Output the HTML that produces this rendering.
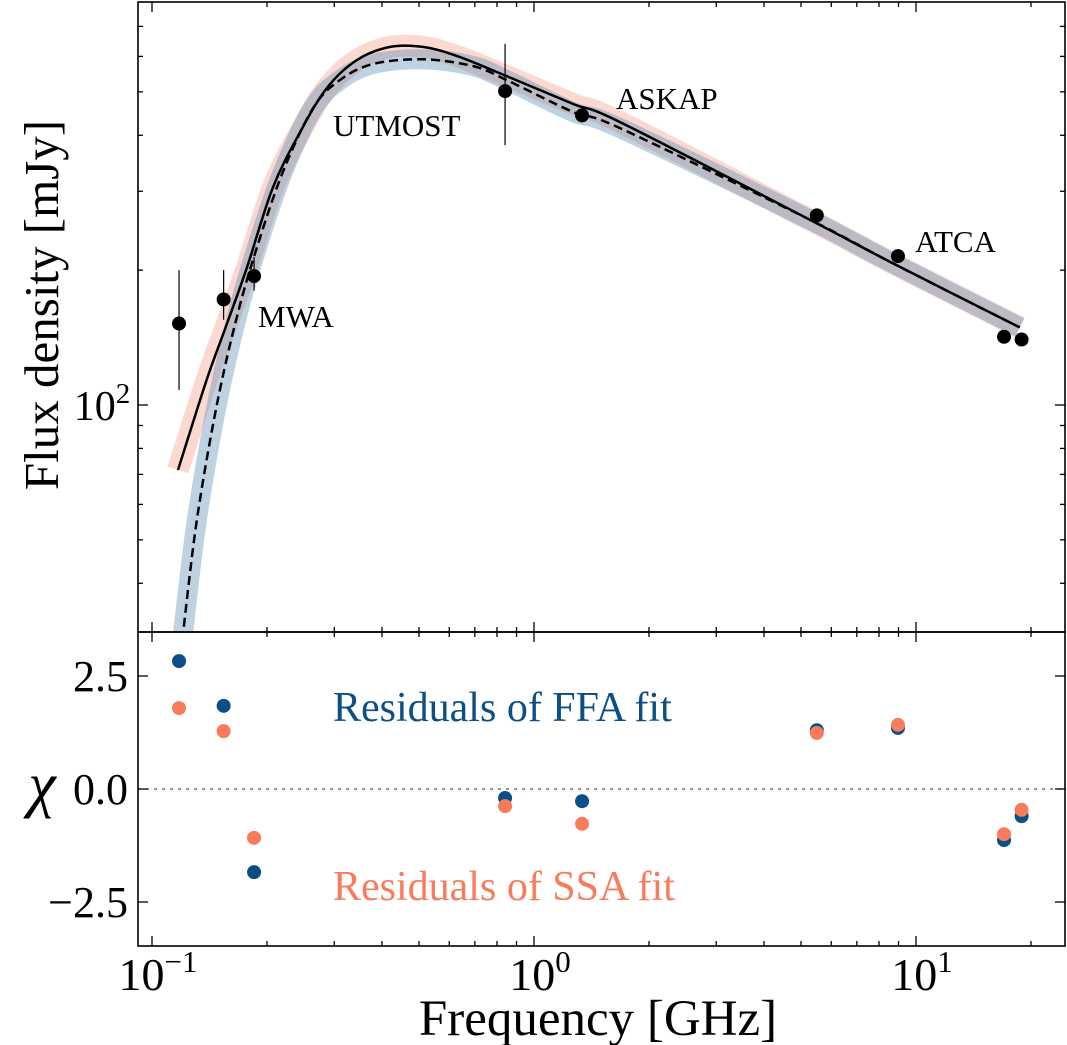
<!DOCTYPE html>
<html><head><meta charset="utf-8"><style>
html,body{margin:0;padding:0;background:#fff;}
svg{display:block;font-family:"Liberation Serif",serif;}
</style></head><body>
<svg id="c" width="1067" height="1045" viewBox="0 0 1067 1045"></svg>
<script>
// ---- data ----
const obsFreq = [0.1177, 0.154, 0.185, 0.84, 1.336, 5.5, 8.97, 17.0, 18.9];
const obsFlux = [152, 172, 194, 502, 443, 265, 215, 142, 140];
const obsErrLo = [108, 155, 180, 380, 432, 258, 209, 139, 137];
const obsErrHi = [200, 200, 214, 640, 455, 273, 221, 145, 143];
const ssaFreq = [0.117,0.139,0.157,0.177,0.207,0.244,0.287,0.344,0.420,0.512,0.629,0.849,1.264,1.679,5.28,8.71,18.7];
const ssaFlux = [71.6,113.7,151.6,202,305,406,510,589,630,630,601,542,470,428,259,207,149];
const ffaFreq = [0.120,0.131,0.148,0.167,0.188,0.220,0.264,0.310,0.379,0.512,0.692,0.849,1.264,1.679,5.28,8.71,18.7];
const ffaFlux = [29.8,55.3,100.5,158,224,331,460,531,577,591,571,531,451,415,259,207,149];
const resFFA = [2.83, 1.84, -1.84, -0.2, -0.27, 1.3, 1.35, -1.13, -0.6];
const resSSA = [1.79, 1.28, -1.08, -0.38, -0.77, 1.24, 1.42, -1.0, -0.46];
const xTickLabels = ["10","10","10"];
const xTickExp = ["\u22121","0","1"];
const chiTicks = [2.5, 0, -2.5];
const chiTickLabels = ["2.5","0.0","\u22122.5"];

// ---- scales ----
const L=138,R=1065,T1=2,B1=632,T2=632,B2=946;
const X = f => 152 + (Math.log10(f)+1)*382;
const Y1 = s => 405 - (Math.log10(s)-2)*448;
const Y2 = c => 789 - c*45.2;
const NS="http://www.w3.org/2000/svg";
const svg=document.getElementById('c');
function mk(tag,attrs,parent){const e=document.createElementNS(NS,tag);for(const k in attrs)e.setAttribute(k,attrs[k]);(parent||svg).appendChild(e);return e;}

const defs=mk('defs',{});
const cp=mk('clipPath',{id:'cp1'},defs);mk('rect',{x:L,y:T1,width:R-L,height:B1-T1},cp);
const g1=mk('g',{'clip-path':'url(#cp1)'});



function pathFrom(fs,ss){
  const p=fs.map((f,i)=>[X(f),Y1(ss[i])]);
  let d='M'+p[0][0].toFixed(1)+','+p[0][1].toFixed(1);
  for(let i=0;i<p.length-1;i++){
    const p0=p[Math.max(0,i-1)],p1=p[i],p2=p[i+1],p3=p[Math.min(p.length-1,i+2)];
    const c1=[p1[0]+(p2[0]-p0[0])/6,p1[1]+(p2[1]-p0[1])/6];
    const c2=[p2[0]-(p3[0]-p1[0])/6,p2[1]-(p3[1]-p1[1])/6];
    d+=' C'+c1[0].toFixed(1)+','+c1[1].toFixed(1)+' '+c2[0].toFixed(1)+','+c2[1].toFixed(1)+' '+p2[0].toFixed(1)+','+p2[1].toFixed(1);
  }
  return d;
}
const bandS=mk('path',{d:pathFrom(ssaFreq,ssaFlux),fill:'none',stroke:'#f4a08a','stroke-width':22,opacity:0.4,'stroke-linejoin':'round'},g1);


const bandF=mk('path',{d:pathFrom(ffaFreq,ffaFlux),fill:'none',stroke:'#5f8fb5','stroke-width':20,opacity:0.4,'stroke-linejoin':'round'},g1);


const lS=mk('path',{d:pathFrom(ssaFreq,ssaFlux),fill:'none',stroke:'#000','stroke-width':2.5},g1);


const lF=mk('path',{d:pathFrom(ffaFreq,ffaFlux),fill:'none',stroke:'#000','stroke-width':2.5,'stroke-dasharray':'9,5'},g1);



obsFreq.forEach((f,i)=>{
  const e=mk('line',{x1:X(f),x2:X(f),y1:Y1(obsErrHi[i]),y2:Y1(obsErrLo[i]),stroke:'#000','stroke-width':1.2},g1);
  
  
  const c=mk('circle',{cx:X(f),cy:Y1(obsFlux[i]),r:7,fill:'#000'},g1);
  
  
});

const cp2=mk('clipPath',{id:'cp2'},defs);mk('rect',{x:L,y:T2,width:R-L,height:B2-T2},cp2);
const g2=mk('g',{'clip-path':'url(#cp2)'});


const zl=mk('line',{x1:L,x2:R,y1:Y2(0),y2:Y2(0),stroke:'#555','stroke-width':1.3,'stroke-dasharray':'3,5'},g2);


obsFreq.forEach((f,i)=>{
  const b=mk('circle',{cx:X(f),cy:Y2(resFFA[i]),r:7,fill:'#0b4f86'},g2);
  
  
});
obsFreq.forEach((f,i)=>{
  const o=mk('circle',{cx:X(f),cy:Y2(resSSA[i]),r:7,fill:'#f87c5c'},g2);
  
  
});

const f1=mk('rect',{x:L,y:T1,width:R-L,height:B1-T1,fill:'none',stroke:'#000','stroke-width':1.6});


const f2=mk('rect',{x:L,y:T2,width:R-L,height:B2-T2,fill:'none',stroke:'#000','stroke-width':1.6});



const tg=mk('g',{stroke:'#000','stroke-width':1.3});


for(let d=-2;d<=1;d++)for(let m=1;m<=9;m++){
  const f=m*Math.pow(10,d);const x=X(f);if(x<L||x>R)continue;
  const len=m===1?10:5;
  [[B1,-1],[T1,1],[B2,-1],[T2,1]].forEach(([y,s])=>mk('line',{x1:x,x2:x,y1:y,y2:y+s*len},tg));
}
for(let d=1;d<=2;d++)for(let m=1;m<=9;m++){
  const s=m*Math.pow(10,d);const y=Y1(s);if(y<T1||y>B1)continue;
  const len=m===1?10:5;
  mk('line',{x1:L,x2:L+len,y1:y,y2:y},tg);mk('line',{x1:R,x2:R-len,y1:y,y2:y},tg);
}
chiTicks.forEach(c=>{const y=Y2(c);mk('line',{x1:L,x2:L+10,y1:y,y2:y},tg);mk('line',{x1:R,x2:R-10,y1:y,y2:y},tg);});

function txt(s,attrs,name){const t=mk('text',attrs);t.textContent=s;return t;}
[0.1,1,10].forEach((f,i)=>{
  const t=mk('text',{x:X(f)+6,y:990,'font-size':46,'text-anchor':'middle'});
  
  
  t.appendChild(document.createTextNode(xTickLabels[i]));
  const sp=mk('tspan',{dy:-18,'font-size':31},t);sp.textContent=xTickExp[i];
});
const yl=mk('text',{x:102,y:420,'font-size':42,'text-anchor':'middle'});


yl.appendChild(document.createTextNode('10'));
const ys=mk('tspan',{dy:-17,'font-size':29},yl);ys.textContent='2';
chiTicks.forEach((c,i)=>txt(chiTickLabels[i],{x:128,y:Y2(c)+15,'font-size':44,'text-anchor':'end'},'chi-tick-label'));
txt('Flux density [mJy]',{x:0,y:0,'font-size':49,'text-anchor':'middle',transform:'translate(58,305) rotate(-90)'},'y-axis-title');
txt('\u03C7',{x:42,y:805,'font-size':62,'font-style':'italic','text-anchor':'middle'},'chi-axis-title');
txt('Frequency [GHz]',{x:598,y:1035,'font-size':51,'text-anchor':'middle'},'x-axis-title');
txt('UTMOST',{x:333,y:136,'font-size':31},'utmost-annotation');
txt('MWA',{x:258,y:327,'font-size':31},'mwa-annotation');
txt('ASKAP',{x:616,y:109,'font-size':31},'askap-annotation');
txt('ATCA',{x:915,y:252,'font-size':31},'atca-annotation');
txt('Residuals of FFA fit',{x:333,y:721,'font-size':42,fill:'#0b4f86'},'ffa-legend-label');
txt('Residuals of SSA fit',{x:333,y:900,'font-size':42,fill:'#f87c5c'},'ssa-legend-label');
</script>
</body></html>
